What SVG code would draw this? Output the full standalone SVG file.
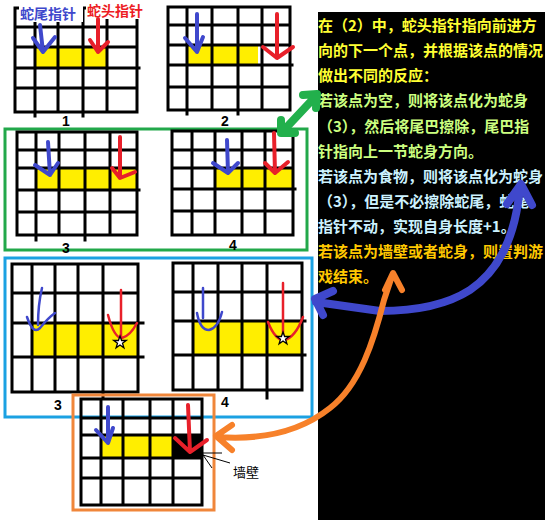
<svg xmlns="http://www.w3.org/2000/svg" width="550" height="520" viewBox="0 0 550 520">
<style>
.g{stroke:#000;stroke-width:3;fill:none;stroke-linecap:square}
.y{fill:#ffee00}
.ba{stroke:#3f48cc;stroke-width:4;fill:none;stroke-linecap:round;stroke-linejoin:round}
.ra{stroke:#e8202a;stroke-width:4;fill:none;stroke-linecap:round;stroke-linejoin:round}
.bt{stroke:#3f48cc;stroke-width:2.5;fill:none;stroke-linecap:round}
.rt{stroke:#e8202a;stroke-width:2.5;fill:none;stroke-linecap:round}
.num{font-family:"Liberation Sans",Arial,sans-serif;font-weight:bold;font-size:14px;fill:#000}
.t{font-family:"Noto Sans CJK SC","Noto Sans",sans-serif;font-weight:bold;font-size:15px}
.c1{fill:#ffff33}.c2{fill:#ccff80}.c3{fill:#ccf2ff}.c4{fill:#ffc800}
.star{fill:#fff;stroke:#000;stroke-width:1.3}
</style>
<rect width="550" height="520" fill="#fff"/>

<g id="panel">
<rect x="318" y="12" width="227" height="508" fill="#000"/>
<text class="t c1" x="318" y="31">在（2）中，蛇头指针指向前进方</text>
<text class="t c1" x="318" y="56">向的下一个点，并根据该点的情况</text>
<text class="t c1" x="318" y="81">做出不同的反应：</text>
<text class="t c2" x="318" y="106">若该点为空，则将该点化为蛇身</text>
<text class="t c2" x="318" y="132">（3），然后将尾巴擦除，尾巴指</text>
<text class="t c2" x="318" y="157">针指向上一节蛇身方向。</text>
<text class="t c3" x="318" y="182">若该点为食物，则将该点化为蛇身</text>
<text class="t c3" x="318" y="207">（3），但是不必擦除蛇尾，蛇尾</text>
<text class="t c3" x="318" y="232">指针不动，实现自身长度+1。</text>
<text class="t c4" x="318" y="257">若该点为墙壁或者蛇身，则置判游</text>
<text class="t c4" x="318" y="282">戏结束。</text>
</g>

<g id="grid1">
<rect class="y" x="35" y="47" width="72" height="21"/>
<path class="g" d="M15 8V112M35 8V116M58 8V112M83 8V116M107 8V112M137 8V112M15 8H137M15 27H137M15 47H137M15 68H139M15 88H137M15 112H137"/>
<rect x="19" y="2" width="64" height="20" fill="#fff"/>
<rect x="86" y="0" width="64" height="19" fill="#fff"/>
<text class="t" x="20" y="19" fill="#3f48cc" style="font-size:14px">蛇尾指针</text>
<text class="t" x="87" y="16" fill="#ed1c24" style="font-size:14px">蛇头指针</text>
<path class="ba" d="M40 25L43 52M33 38L43 52L55 37"/>
<path class="ra" d="M98 19V52M90 40L98 52L108 42"/>
<text class="num" x="62" y="126">1</text>
</g>

<g id="grid2">
<rect class="y" x="187" y="45" width="71" height="20"/>
<path class="g" d="M168 7V110M187 7V114M212 7V110M238 7V114M262 7V110M290 7V110M168 7H290M168 25H290M168 45H290M168 65H292M168 87H290M168 110H290"/>
<path class="ba" d="M197 14V52M185 38L197 52L203 37"/>
<path class="ra" d="M277 14V58M263 47L277 58L293 47"/>
<text class="num" x="221" y="126">2</text>
</g>

<g id="box-green">
<rect x="5" y="129" width="302" height="121" fill="none" stroke="#22a84a" stroke-width="3"/>
</g>

<g id="grid3">
<rect class="y" x="36" y="168" width="101" height="22"/>
<path class="g" d="M17 132V235M36 132V240M59 132V235M85 132V240M110 132V235M137 132V235M17 132H137M17 150H137M17 168H137M17 190H139M17 212H137M17 235H137"/>
<path class="ba" d="M48 142L50 175M35 165L50 175L58 163"/>
<path class="ra" d="M120 137V178M112 168L120 178L135 172"/>
<text class="num" x="62" y="253">3</text>
</g>

<g id="grid4">
<rect class="y" x="215" y="168" width="78" height="21"/>
<path class="g" d="M172 131V235M192 131V235M215 131V235M242 131V235M265 131V235M293 131V235M172 131H293M172 150H293M172 168H293M172 189H295M172 211H293M172 235H293"/>
<path class="ba" d="M227 140L228 173M213 163L228 173L238 163"/>
<path class="ra" d="M274 133L275 173M265 163L275 173L288 162"/>
<text class="num" x="229" y="250">4</text>
</g>

<g id="box-blue">
<rect x="5" y="258" width="307" height="159" fill="none" stroke="#1ba1e2" stroke-width="3"/>
</g>

<g id="grid5">
<rect class="y" x="32" y="323" width="106" height="34"/>
<path class="g" d="M12 264V392M32 264V392M55 264V392M78 264V392M103 264V397M138 264V392M12 264H138M12 293H138M12 323H143M12 357H143M12 392H138"/>
<path class="bt" d="M42 288Q38 305 38 325M27 317Q33 335 40 328Q48 318 55 313"/>
<path class="rt" d="M121 290V338M108 315Q114 338 122 338Q130 336 137 323"/>
<polygon class="star" points="120,336 121.6,340.5 126.3,340.5 122.5,343.3 123.9,347.8 120,345 116.1,347.8 117.5,343.3 113.7,340.5 118.4,340.5"/>
<text class="num" x="54" y="410">3</text>
</g>

<g id="grid6">
<rect class="y" x="193" y="321" width="109" height="34"/>
<path class="g" d="M173 263V390M193 263V390M218 263V390M242 263V390M267 263V398M302 263V390M173 263H302M173 292H302M173 321H305M173 355H305M173 390H302"/>
<path class="bt" d="M203 288V318M197 313Q200 330 209 330Q218 328 222 312"/>
<path class="rt" d="M283 283V337M268 322Q275 340 284 340Q295 338 303 317"/>
<polygon class="star" points="283,332 284.6,336.5 289.3,336.5 285.5,339.3 286.9,343.8 283,341 279.1,343.8 280.5,339.3 276.7,336.5 281.4,336.5"/>
<text class="num" x="221" y="407">4</text>
</g>

<g id="box-orange">
<rect x="73" y="395" width="141" height="115" fill="none" stroke="#f0863a" stroke-width="3"/>
</g>

<g id="grid7">
<rect class="y" x="101" y="435" width="72" height="23"/>
<rect x="173" y="435" width="29" height="23" fill="#000"/>
<path class="g" d="M81 399V505M101 399V505M123 399V505M150 399V505M173 399V505M202 399V505M81 399H202M81 418H202M81 435H202M81 458H202M81 478H202M81 505H202"/>
<path class="ba" d="M108 407V443M96 430L108 443L113 428"/>
<path class="ra" d="M188 405L190 452M175 438L190 452L207 440"/>
</g>

<g id="wall-label">
<path d="M203 455L212 468M203 455L230 463M203 453H222" stroke="#000" stroke-width="1" fill="none"/>
<text x="233" y="477" font-family="'Noto Sans CJK SC',sans-serif" font-size="13" fill="#000">墙壁</text>
</g>

<g id="connectors" fill="none" stroke-linecap="round" stroke-linejoin="round">
<path d="M284 130L315 97M281 120L281 133L295 133M303 95L317 94L316 108" stroke="#22b04c" stroke-width="8"/>
<path d="M520 186C516 235 500 270 470 290C445 306 415 311 380 311L316 302M333 291L315 299L323 315M507 204L521 184L532 205" stroke="#3f48cc" stroke-width="8"/>
<path d="M218 437C260 440 300 432 330 408C360 385 374 340 384 300L392 276M232 425L216 436L232 450M385 290L393 273L402 290" stroke="#f7812a" stroke-width="6"/>
</g>
</svg>
